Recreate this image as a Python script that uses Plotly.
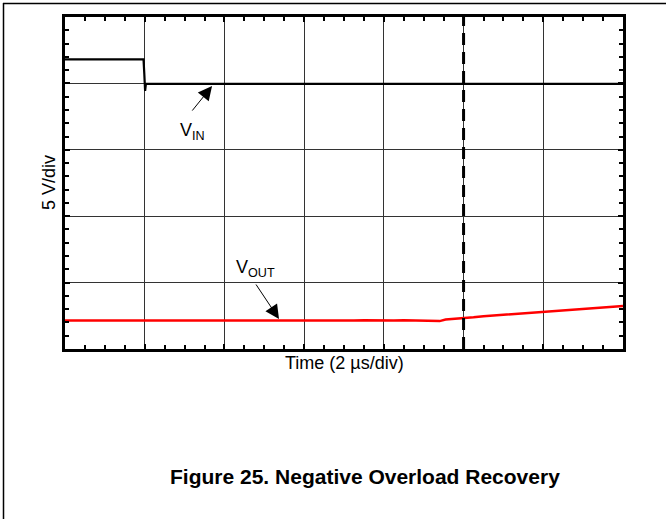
import plotly.graph_objects as go

# ---- data (time in microseconds, voltage in volts; 5 V/div, 2 us/div) ----
vin_t = [0.0, 1.97, 1.99, 2.01, 2.03, 2.06, 14.0]
vin_v = [9.31, 9.31, 8.2, 6.93, 7.47, 7.47, 7.47]

vout_t = [0.00, 0.25, 0.50, 0.75, 1.00, 1.25, 1.50, 1.75, 2.00, 2.25, 2.50, 2.75,
          3.00, 3.25, 3.50, 3.75, 4.00, 4.25, 4.50, 4.75, 5.00, 5.25, 5.50, 5.75,
          6.00, 6.25, 6.50, 6.75, 7.00, 7.25, 7.50, 7.75, 8.00, 8.25, 8.50, 8.75,
          9.00, 9.25, 9.40, 9.55, 9.75, 10.00, 10.25, 10.50, 10.75, 11.00, 11.25,
          11.50, 11.75, 12.00, 12.25, 12.50, 12.75, 13.00, 13.25, 13.50, 13.75, 14.00]
vout_v = [-10.35, -10.35, -10.35, -10.35, -10.36, -10.40, -10.36, -10.38, -10.36, -10.38,
          -10.37, -10.35, -10.38, -10.36, -10.37, -10.39, -10.36, -10.35, -10.37, -10.36,
          -10.38, -10.36, -10.35, -10.37, -10.36, -10.35, -10.37, -10.36, -10.35, -10.36,
          -10.34, -10.36, -10.35, -10.36, -10.34, -10.35, -10.36, -10.37, -10.40, -10.28,
          -10.24, -10.14, -10.11, -10.03, -9.98, -9.92, -9.87, -9.81, -9.77, -9.71,
          -9.65, -9.61, -9.54, -9.49, -9.43, -9.38, -9.32, -9.26]

marker_time = 10.0
x_range = [0, 14]
y_range = [-12.5, 12.5]

FONT = "Liberation Sans, Arial, sans-serif"

fig = go.Figure()
fig.add_trace(go.Scatter(x=vout_t, y=vout_v, mode="lines",
                         line=dict(color="#ff0000", width=2.5), showlegend=False))
fig.add_trace(go.Scatter(x=vin_t, y=vin_v, mode="lines",
                         line=dict(color="#000000", width=2.2), showlegend=False))

# dashed marker line
fig.add_shape(type="line", xref="x", yref="paper", x0=marker_time, x1=marker_time,
              y0=0, y1=1, line=dict(color="black", width=3, dash="12px,7px"))

# page frame (top and left edges)
W, H = 666, 519
L, R, T, B = 65, 43, 17, 170
pw, ph = W - L - R, H - T - B
def px(xp):
    return (xp - L) / pw
def py(yp):
    return (H - B - yp) / ph
fig.add_shape(type="line", xref="paper", yref="paper", x0=px(3), x1=px(666),
              y0=py(3.5), y1=py(3.5), line=dict(color="black", width=1.5))
fig.add_shape(type="line", xref="paper", yref="paper", x0=px(3.5), x1=px(3.5),
              y0=py(3), y1=py(519), line=dict(color="black", width=1.5))

axis_common = dict(showline=True, linecolor="black", linewidth=2.5, mirror="allticks",
                   ticks="inside", ticklen=5, tickwidth=2, tickcolor="black",
                   showticklabels=False, showgrid=True, gridcolor="#333333", gridwidth=1,
                   zeroline=False)
fig.update_xaxes(range=x_range, tick0=0, dtick=2,
                 minor=dict(ticks="inside", ticklen=4, tickwidth=1.5, tickcolor="black",
                            dtick=0.5, tick0=0, showgrid=False),
                 **axis_common)
fig.update_yaxes(range=y_range, tick0=-12.5, dtick=5,
                 minor=dict(ticks="inside", ticklen=4, tickwidth=1.5, tickcolor="black",
                            dtick=1, tick0=-12.5, showgrid=False),
                 **axis_common)

# arrows
fig.add_annotation(x=3.69, y=7.30, xref="x", yref="y", text="", showarrow=True,
                   ax=-21, ay=26, arrowhead=2, arrowsize=2.8, arrowwidth=1, arrowcolor="black")
fig.add_annotation(x=5.37, y=-10.24, xref="x", yref="y", text="", showarrow=True,
                   ax=-24, ay=-36, arrowhead=2, arrowsize=2.8, arrowwidth=1, arrowcolor="black")

def label(xp, yp, text, size=18, angle=0):
    fig.add_annotation(x=px(xp), y=py(yp), xref="paper", yref="paper", showarrow=False,
                       xanchor="center", yanchor="middle", textangle=angle, text=text,
                       font=dict(family=FONT, size=size, color="black"))

label(192, 131, "V<sub>IN</sub>")
label(255, 268, "V<sub>OUT</sub>")
label(344, 363, "Time (2 µs/div)")
label(49, 183, "5 V/div", angle=-90)
label(365, 477, "<b>Figure 25. Negative Overload Recovery</b>", size=21)

fig.update_layout(width=W, height=H, margin=dict(l=L, r=R, t=T, b=B),
                  paper_bgcolor="white", plot_bgcolor="white", showlegend=False)

fig.write_html("out.html", config={"displayModeBar": False},
               post_script="document.body.style.margin='0px';document.body.style.overflow='hidden';")
